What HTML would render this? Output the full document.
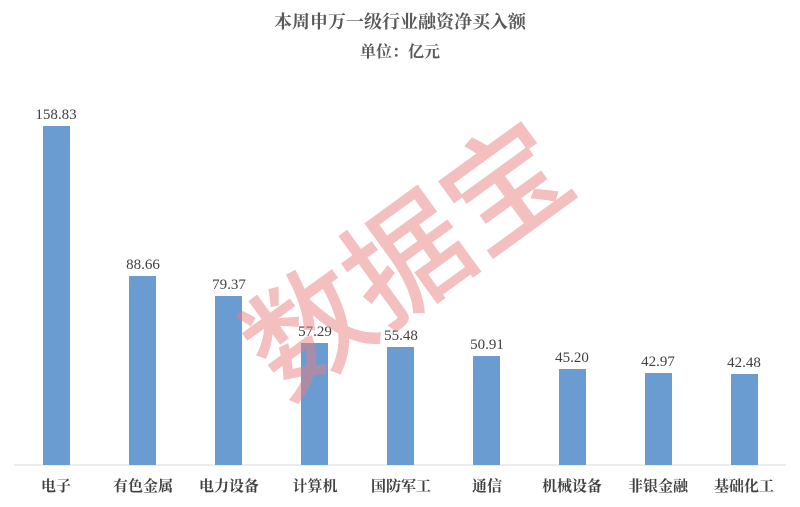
<!DOCTYPE html>
<html><head><meta charset="utf-8"><style>
body{margin:0;background:#fff;}
</style></head><body>
<svg width="800" height="502" viewBox="0 0 800 502" xmlns="http://www.w3.org/2000/svg">
<rect width="800" height="502" fill="#fff"/>
<text x="400" y="28" text-anchor="middle" font-family="'Liberation Serif','Noto Serif CJK SC',serif" font-weight="bold" font-size="18" fill="#595959">本周申万一级行业融资净买入额</text>
<text x="400" y="57" text-anchor="middle" font-family="'Liberation Serif','Noto Serif CJK SC',serif" font-weight="bold" font-size="16" fill="#595959">单位：亿元</text>
<line x1="14" y1="465" x2="786" y2="465" stroke="#d9d9d9" stroke-width="1"/>
<g fill="#6a9bd1">
<rect x="43" y="126" width="27" height="339"/>
<rect x="129" y="276" width="27" height="189"/>
<rect x="215" y="296" width="27" height="169"/>
<rect x="301" y="343" width="27" height="122"/>
<rect x="387" y="347" width="27" height="118"/>
<rect x="473" y="356" width="27" height="109"/>
<rect x="559" y="369" width="27" height="96"/>
<rect x="645" y="373" width="27" height="92"/>
<rect x="731" y="374" width="27" height="91"/>
</g>
<g font-family="'Liberation Serif',serif" font-size="15" fill="#404040" text-anchor="middle">
<text x="56" y="119">158.83</text>
<text x="143" y="269">88.66</text>
<text x="229" y="289">79.37</text>
<text x="315" y="336">57.29</text>
<text x="401" y="340">55.48</text>
<text x="487" y="349">50.91</text>
<text x="572" y="362">45.20</text>
<text x="658" y="366">42.97</text>
<text x="744" y="367">42.48</text>
</g>
<g font-family="'Liberation Serif','Noto Serif CJK SC',serif" font-weight="bold" font-size="15" fill="#404040" text-anchor="middle">
<text x="56" y="491">电子</text>
<text x="143" y="491">有色金属</text>
<text x="229" y="491">电力设备</text>
<text x="315" y="491">计算机</text>
<text x="401" y="491">国防军工</text>
<text x="487" y="491">通信</text>
<text x="572" y="491">机械设备</text>
<text x="658" y="491">非银金融</text>
<text x="744" y="491">基础化工</text>
</g>
<text x="0" y="0" transform="translate(402,252) rotate(-36)" text-anchor="middle" dominant-baseline="central" font-family="'Noto Sans CJK SC',sans-serif" font-weight="500" font-size="122" fill="#e88080" fill-opacity="0.5">数据宝</text>
</svg>
</body></html>
